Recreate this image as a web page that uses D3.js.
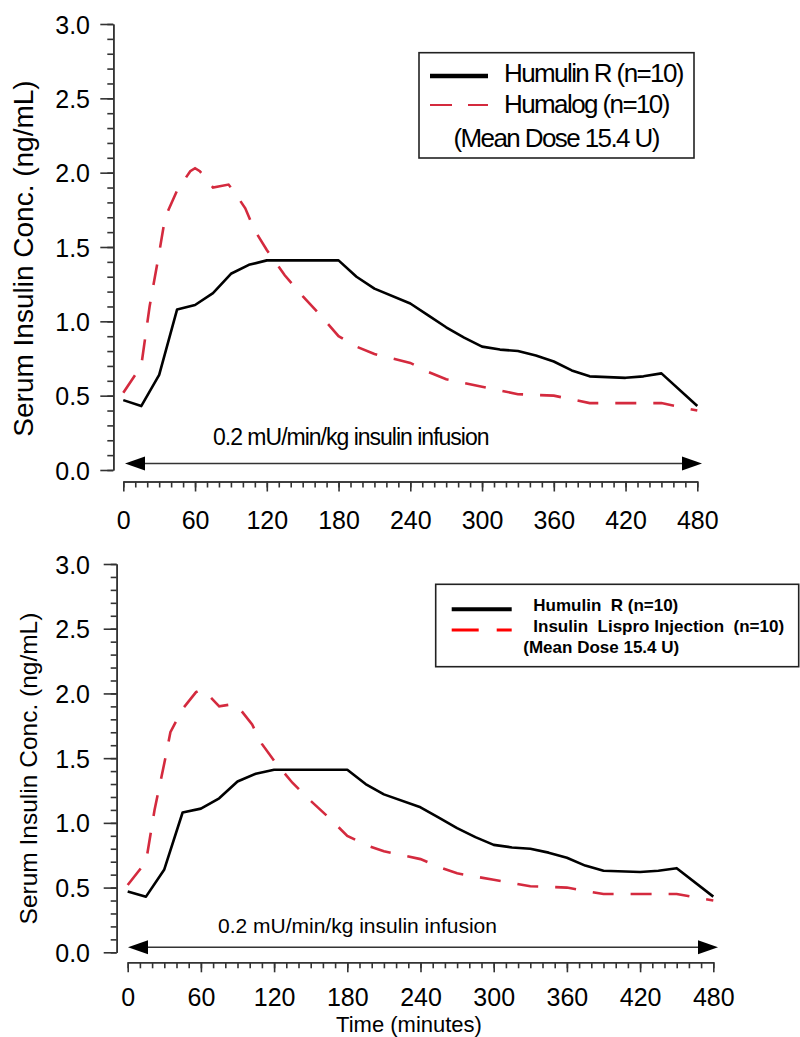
<!DOCTYPE html>
<html>
<head>
<meta charset="utf-8">
<script src="https://cdn.jsdelivr.net/npm/d3@7"></script>
<style>
  html, body { margin: 0; padding: 0; background: #fff; }
  svg { display: block; font-family: "Liberation Sans", Arial, sans-serif; }
</style>
</head>
<body>
<svg id="chart" width="800" height="1037"></svg>
<script>
// ---------------- DATA ----------------
const humulinTimes  = [0, 15, 30, 45, 60, 75, 90, 105, 120, 150, 180, 195, 210, 240, 255, 270, 285, 300, 315, 330, 345, 360, 375, 390, 420, 435, 450, 480];
const humulinValues = [0.47, 0.43, 0.64, 1.08, 1.11, 1.19, 1.32, 1.38, 1.41, 1.41, 1.41, 1.30, 1.22, 1.12, 1.04, 0.96, 0.89, 0.83, 0.81, 0.80, 0.77, 0.73, 0.67, 0.63, 0.62, 0.63, 0.65, 0.43];

const humalogTimes  = [0, 15, 22, 30, 35, 45, 56, 60, 64, 75, 88, 92, 102, 110, 120, 135, 150, 165, 180, 195, 210, 225, 240, 255, 270, 300, 330, 360, 390, 420, 450, 480];
const humalogValues = [0.52, 0.70, 1.10, 1.46, 1.70, 1.88, 2.01, 2.03, 2.01, 1.90, 1.92, 1.88, 1.76, 1.61, 1.48, 1.31, 1.17, 1.04, 0.90, 0.83, 0.78, 0.75, 0.72, 0.66, 0.61, 0.56, 0.51, 0.50, 0.45, 0.45, 0.45, 0.40];

const xTicks = [0, 60, 120, 180, 240, 300, 360, 420, 480];
const yTicks = [0.0, 0.5, 1.0, 1.5, 2.0, 2.5, 3.0];
const yLabel = "Serum Insulin Conc. (ng/mL)";
const xLabel = "Time (minutes)";
const infusionText = "0.2 mU/min/kg insulin infusion";
const legendTop = ["Humulin R (n=10)", "Humalog (n=10)", "(Mean Dose 15.4 U)"];
const legendBottom = ["Humulin  R (n=10)", "Insulin  Lispro Injection  (n=10)", "(Mean Dose 15.4 U)"];

const humulin = humulinTimes.map((t, i) => ({t, v: humulinValues[i]}));
const humalog = humalogTimes.map((t, i) => ({t, v: humalogValues[i]}));

const RED = "#d42a3e";
const svg = d3.select("#chart");

function panel(cfg) {
  const x = d3.scaleLinear().domain([0, 480]).range([cfg.x0, cfg.x1]);
  const y = d3.scaleLinear().domain([0, 3]).range([cfg.y0, cfg.y3]);
  const g = svg.append("g");

  // Y axis: minor ticks
  const yMinor = d3.range(0, 3.0001, 0.1).map(d => +d.toFixed(1));
  g.append("g").attr("transform", `translate(${cfg.yAxisX},0)`)
    .call(d3.axisLeft(y).tickValues(yMinor).tickSize(6).tickSizeOuter(0).tickFormat(""))
    .call(s => s.selectAll("line,path").attr("stroke", "#333").attr("stroke-width", 1.6));
  // Y axis: major ticks
  const ya = g.append("g").attr("transform", `translate(${cfg.yAxisX},0)`)
    .call(d3.axisLeft(y).tickValues(yTicks).tickSize(13).tickSizeOuter(0).tickFormat(d3.format(".1f")).tickPadding(10));
  ya.selectAll("line,path").attr("stroke", "#333").attr("stroke-width", 1.6);
  ya.selectAll("text").attr("font-size", cfg.tickFont).attr("fill", "#000")
    .attr("x", cfg.yLabelRight - cfg.yAxisX).attr("dy", "0.36em");

  // X axis
  const xMinor = d3.range(0, 481, 10);
  g.append("g").attr("transform", `translate(0,${cfg.xAxisY})`)
    .call(d3.axisBottom(x).tickValues(xMinor).tickSize(6).tickSizeOuter(0).tickFormat(""))
    .call(s => s.selectAll("line,path").attr("stroke", "#333").attr("stroke-width", 1.6));
  const xa = g.append("g").attr("transform", `translate(0,${cfg.xAxisY})`)
    .call(d3.axisBottom(x).tickValues(xTicks).tickSize(10).tickSizeOuter(0).tickFormat(d3.format("d")));
  xa.selectAll("line,path").attr("stroke", "#333").attr("stroke-width", 1.6);
  xa.selectAll("text").attr("font-size", cfg.xTickFont).attr("fill", "#000")
    .attr("y", cfg.xTickBaseline - cfg.xAxisY).attr("dy", 0);

  // Y label
  g.append("text")
    .attr("transform", `translate(${cfg.yTitleX},${cfg.yTitleY}) rotate(-90)`)
    .attr("text-anchor", "middle").attr("dominant-baseline", "central")
    .attr("font-size", cfg.yTitleFont).attr("fill", "#000")
    .text(yLabel);

  // Infusion arrow
  const ay = cfg.arrowY;
  const ax0 = cfg.arrowX0, ax1 = cfg.arrowX1;
  g.append("line").attr("x1", ax0 + 10).attr("x2", ax1 - 10).attr("y1", ay).attr("y2", ay)
    .attr("stroke", "#333").attr("stroke-width", 1.6);
  g.append("path").attr("d", `M${ax0},${ay} L${ax0 + 20},${ay - 7} L${ax0 + 20},${ay + 7} Z`).attr("fill", "#000");
  g.append("path").attr("d", `M${ax1},${ay} L${ax1 - 20},${ay - 7} L${ax1 - 20},${ay + 7} Z`).attr("fill", "#000");
  g.append("text").attr("x", cfg.infX).attr("y", cfg.infBaseline)
    .attr("font-size", cfg.infFont).attr("letter-spacing", cfg.infSpacing).attr("fill", "#000")
    .text(infusionText);

  // Lines
  const line = d3.line().x(d => x(d.t)).y(d => y(d.v));
  g.append("path").datum(humalog).attr("d", line)
    .attr("fill", "none").attr("stroke", RED).attr("stroke-width", 2.6)
    .attr("stroke-dasharray", "21,17");
  g.append("path").datum(humulin).attr("d", line)
    .attr("fill", "none").attr("stroke", "#000").attr("stroke-width", 2.6)
    .attr("stroke-linejoin", "round");

  if (cfg.xTitle) {
    g.append("text").attr("x", cfg.xTitleX).attr("y", cfg.xTitleBaseline)
      .attr("text-anchor", "middle").attr("font-size", 22).attr("fill", "#000").text(xLabel);
  }

  // Legend
  const L = cfg.legend;
  g.append("rect").attr("x", L.x).attr("y", L.y).attr("width", L.w).attr("height", L.h)
    .attr("fill", "#fff").attr("stroke", "#222").attr("stroke-width", 1.6);
  g.append("line").attr("x1", L.lx0).attr("x2", L.lx1).attr("y1", L.l1y).attr("y2", L.l1y)
    .attr("stroke", "#000").attr("stroke-width", L.blackW);
  g.append("line").attr("x1", L.lx0).attr("x2", L.lx1).attr("y1", L.l2y).attr("y2", L.l2y)
    .attr("stroke", L.red).attr("stroke-width", L.redW).attr("stroke-dasharray", L.dash);
  const texts = L.texts;
  texts.forEach((t, i) => {
    g.append("text").attr("x", L.tx[i]).attr("y", L.ty[i])
      .attr("font-size", L.font).attr("font-weight", L.weight)
      .attr("letter-spacing", L.spacing).attr("fill", "#000")
      .style("white-space", "pre")
      .text(t);
  });
}

panel({
  x0: 123.3, x1: 697.3, y0: 470, y3: 24,
  yAxisX: 113.3, xAxisY: 481.5, yLabelRight: 90,
  tickFont: 25, xTickFont: 25, xTickBaseline: 529,
  yTitleX: 23.5, yTitleY: 258.5, yTitleFont: 28,
  arrowY: 463.5, arrowX0: 125, arrowX1: 702,
  infX: 213, infBaseline: 445, infFont: 23, infSpacing: -1,
  xTitle: false,
  legend: {
    x: 419, y: 52.7, w: 275, h: 105.3,
    lx0: 430, lx1: 488, l1y: 76, l2y: 105, blackW: 4.5, redW: 2.2, dash: "22,16", red: RED,
    texts: legendTop, tx: [504, 504, 453.5], ty: [81.7, 113.3, 146.7],
    font: 26, weight: "normal", spacing: -1.6
  }
});

panel({
  x0: 127.7, x1: 713.3, y0: 952.3, y3: 564,
  yAxisX: 116.7, xAxisY: 962.3, yLabelRight: 90,
  tickFont: 25, xTickFont: 25, xTickBaseline: 1006,
  yTitleX: 28, yTitleY: 768.5, yTitleFont: 24.5,
  arrowY: 947.3, arrowX0: 128, arrowX1: 718,
  infX: 218, infBaseline: 932.5, infFont: 21, infSpacing: 0,
  xTitle: true, xTitleX: 409, xTitleBaseline: 1032,
  legend: {
    x: 435.7, y: 584.3, w: 363, h: 82.4,
    lx0: 451.7, lx1: 511.7, l1y: 609.3, l2y: 630, blackW: 4, redW: 3, dash: "27,18", red: "#ff0000",
    texts: legendBottom, tx: [533.3, 533.3, 523.3], ty: [610.7, 632.3, 653.3],
    font: 17, weight: "bold", spacing: 0
  }
});
</script>
</body>
</html>
